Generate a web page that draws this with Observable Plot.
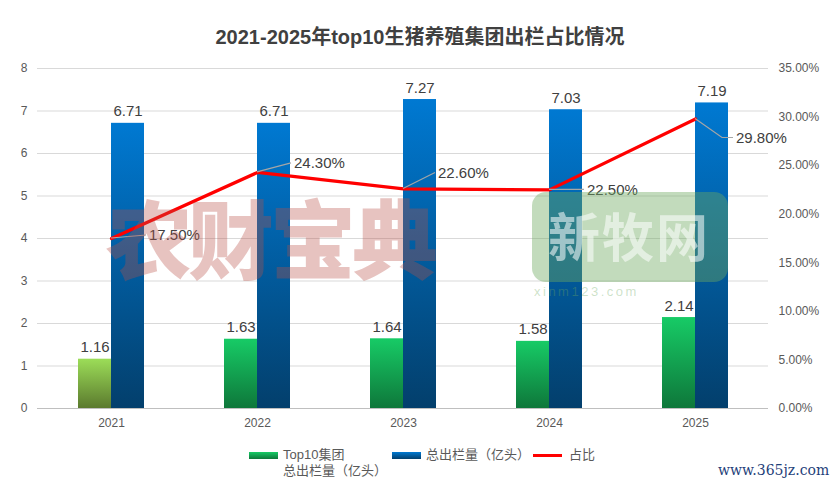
<!DOCTYPE html>
<html>
<head>
<meta charset="utf-8">
<script src="https://cdn.jsdelivr.net/npm/d3@7"></script>
<script src="https://cdn.jsdelivr.net/npm/@observablehq/plot@0.6"></script>
<style>
  html, body { margin: 0; padding: 0; background: #fff; }
  #wrap { position: relative; width: 837px; height: 490px; overflow: hidden;
          font-family: "Liberation Sans", Arial, "Noto Sans CJK SC", sans-serif; }
  #title { height: 56px; line-height: 74px; text-align: center; font-size: 20px; font-weight: bold;
           color: #404040; padding-left: 3px; }
  .abs { position: absolute; pointer-events: none; }
  .lg { position: absolute; font-size: 13px; color: #595959; line-height: 16px; }
  .sw { position: absolute; width: 29px; height: 7px; }
</style>
</head>
<body>
<div id="wrap">
  <div id="title">2021-2025年top10生猪养殖集团出栏占比情况</div>
  <div id="chart"></div>
</div>
<script>
const years = ["2021", "2022", "2023", "2024", "2025"];
const top10 = [1.16, 1.63, 1.64, 1.58, 2.14];
const total = [6.71, 6.71, 7.27, 7.03, 7.19];
const share = [17.5, 24.3, 22.6, 22.5, 29.8];
const leftTicks = [0, 1, 2, 3, 4, 5, 6, 7, 8];
const rightTicks = [0, 5, 10, 15, 20, 25, 30, 35];
const seriesNames = ["Top10集团\n总出栏量（亿头）", "总出栏量（亿头）", "占比"];

const pctMax = 35, yMax = 8;
const toY = p => p * yMax / pctMax;
const data = years.map((y, i) => ({year: y, top10: top10[i], total: total[i], share: share[i], sy: toY(share[i])}));

// leader line offsets for the percentage labels (pixel layout)
const leaders = {
  "2021": [[0, 0], [35, -3]],
  "2022": [[0, 0], [34, -9]],
  "2023": [[0, 0], [32, -16]],
  "2024": [[0, 0], [35, 0]],
  "2025": [[0, 0], [27, 19], [38, 19]]
};

function defs() {
  const d = d3.create("svg:defs");
  const grad = (id, top, bottom) => {
    const g = d.append("linearGradient").attr("id", id).attr("x1", 0).attr("y1", 0).attr("x2", 0).attr("y2", 1);
    g.append("stop").attr("offset", "0%").attr("stop-color", top);
    g.append("stop").attr("offset", "100%").attr("stop-color", bottom);
  };
  grad("gBlue", "#0079d2", "#033f6c");
  grad("gGreen", "#17cb66", "#0e773a");
  grad("gLime", "#9cdd58", "#5b7a2e");
  return d.node();
}

const plot = Plot.plot({
  width: 837,
  height: 380,
  marginTop: 12,
  marginBottom: 28,
  marginLeft: 37,
  marginRight: 69,
  style: {fontFamily: '"Liberation Sans", Arial, sans-serif', fontSize: "12px", color: "#595959", background: "transparent"},
  x: {domain: years, paddingInner: 0.548, paddingOuter: 0.274, align: 0.5},
  y: {domain: [0, yMax]},
  color: {type: "identity"},
  marks: [
    defs,
    Plot.gridY(leftTicks, {stroke: "#d9d9d9", strokeOpacity: 1}),
    Plot.axisY({ticks: leftTicks, tickSize: 0, tickPadding: 10, anchor: "left", fill: "#595959", label: null}),
    Plot.axisY({ticks: rightTicks.map(toY), tickSize: 0, tickPadding: 10, anchor: "right", fill: "#595959",
      tickFormat: d => (d * pctMax / yMax).toFixed(2) + "%", label: null}),
    Plot.axisX({tickSize: 0, tickPadding: 10, fill: "#595959", label: null}),
    Plot.barY(data, {x: "year", y: "top10", insetRight: 33,
      fill: d => d.year === "2021" ? "url(#gLime)" : "url(#gGreen)"}),
    Plot.barY(data, {x: "year", y: "total", insetLeft: 33, fill: "url(#gBlue)"}),
    Plot.ruleY([0], {stroke: "#bfbfbf"}),
    Plot.line(data, {x: "year", y: "sy", stroke: "#ff0000", strokeWidth: 3.2}),
    Plot.text(data, {x: "year", y: "top10", text: d => d.top10.toFixed(2), dx: -16.5, dy: -7,
      lineAnchor: "bottom", fontSize: 15, fill: "#404040"}),
    Plot.text(data, {x: "year", y: "total", text: d => d.total.toFixed(2), dx: 16.5, dy: -7,
      lineAnchor: "bottom", fontSize: 15, fill: "#404040"})
  ]
});
document.getElementById("chart").appendChild(plot);

// percentage labels with leader lines, placed through the plot's own scales
{
  const sx = plot.scale("x"), sy = plot.scale("y");
  const half = (sx.bandwidth || 0) / 2;
  const g = d3.select(plot).append("g")
    .attr("font-family", '"Liberation Sans", Arial, sans-serif')
    .attr("text-anchor", "start");
  data.forEach(d => {
    const cx = sx.apply(d.year) + half, cy = sy.apply(d.sy);
    const pts = leaders[d.year].map(([dx, dy]) => [cx + dx, cy + dy]);
    g.append("path").attr("d", d3.line()(pts)).attr("fill", "none")
      .attr("stroke", "#a6a6a6").attr("stroke-width", 1.2);
    const last = pts[pts.length - 1];
    g.append("text").attr("x", last[0] + 3).attr("y", last[1]).attr("dy", "0.35em")
      .attr("text-anchor", "start")
      .attr("fill", "#404040").attr("font-size", 15).text(d.share.toFixed(2) + "%");
  });
}

// legend
const wrap = document.getElementById("wrap");
function addEl(cls, style, html) {
  const e = document.createElement("div");
  e.className = cls;
  Object.assign(e.style, style);
  if (html) e.innerHTML = html;
  wrap.appendChild(e);
  return e;
}
addEl("sw", {left: "249px", top: "452px", background: "linear-gradient(#17cb66, #0e773a)"});
addEl("lg", {left: "283px", top: "447px"}, seriesNames[0].replace("\n", "<br>"));
addEl("sw", {left: "392px", top: "452px", background: "linear-gradient(#0079d2, #033f6c)"});
addEl("lg", {left: "426px", top: "447px"}, seriesNames[1]);
addEl("sw", {left: "533px", top: "454px", height: "3px", background: "#ff0000"});
addEl("lg", {left: "569px", top: "447px"}, seriesNames[2]);

// watermarks
addEl("abs", {left: "106px", top: "176px", fontSize: "86px", fontWeight: "900", letterSpacing: "-4px",
  color: "rgba(185,80,70,0.34)", fontFamily: '"Noto Sans CJK SC", sans-serif', lineHeight: "120px"}, "农财宝典");
addEl("abs", {left: "532px", top: "192px", width: "196px", height: "90px", borderRadius: "14px",
  background: "rgba(110,170,95,0.42)"});
addEl("abs", {left: "548px", top: "190px", fontSize: "52px", fontWeight: "700", color: "rgba(255,255,255,0.55)",
  fontFamily: '"Noto Sans CJK SC", sans-serif', lineHeight: "90px", letterSpacing: "2px"}, "新牧网");
addEl("abs", {left: "534px", top: "284px", fontSize: "13px", letterSpacing: "2.5px", color: "rgba(110,170,95,0.35)"}, "xinm123.com");
addEl("abs", {left: "718px", top: "462px", fontSize: "14px", color: "#1f3f7a", fontFamily: '"DejaVu Serif", serif'}, "www.365jz.com");
</script>
</body>
</html>
